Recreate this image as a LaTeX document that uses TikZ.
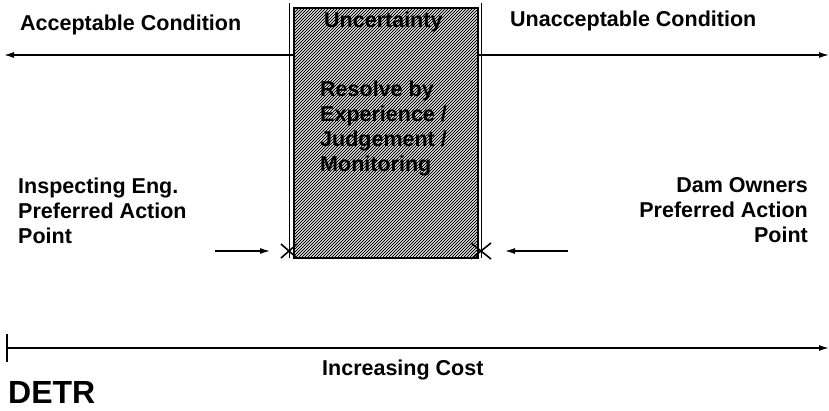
\documentclass[tikz,border=0pt]{standalone}
\usepackage{fontspec}
\setmainfont{Liberation Sans}
\usetikzlibrary{arrows.meta}
\begin{document}
\begin{tikzpicture}[x=1pt,y=-1pt,
  lbl/.style={font=\fontsize{21.5}{25}\selectfont\bfseries, inner sep=0pt},
  axisline/.style={line width=1.4pt},
  tipend/.style={-{Latex[length=10pt,width=6pt]}},
  hatchline/.style={line width=0.9pt},
  crossmark/.style={line width=1.6pt},
  sideline/.style={line width=1pt}]
\useasboundingbox (0,0) rectangle (829,410);

% condition scale
\coordinate (tl) at (4,55);
\coordinate (tr) at (829,55);
\draw[axisline,{Latex[length=10pt,width=6pt]}-{Latex[length=10pt,width=6pt]}] (tl) -- (tr);

% uncertainty band: hatched fill
\begin{scope}
  \clip (293,7) rectangle (477,257);
  \fill[white] (293,7) rectangle (477,257);
  \foreach \i in {-252,-249,...,186}
    \draw[hatchline] (293+\i,257) -- (543+\i,7);
\end{scope}
\node[draw, line width=1.6pt, minimum width=184pt, minimum height=250pt,
      inner sep=0pt, anchor=north west] (box) at (293,7) {};

% side lines of the band
\coordinate (sl1) at (289,3);
\coordinate (sl2) at (289,258);
\coordinate (sr1) at (481,3);
\coordinate (sr2) at (481,258);
\draw[sideline] (sl1) -- (sl2);
\draw[sideline] (sr1) -- (sr2);

% action points
\coordinate (xl) at (289,251);
\coordinate (xr) at (481,251);
\draw[crossmark] ([shift={(-8,-7)}]xl) -- ([shift={(8,7)}]xl);
\draw[crossmark] ([shift={(-8,7)}]xl) -- ([shift={(8,-7)}]xl);
\draw[crossmark] ([shift={(-10,-8)}]xr) -- ([shift={(10,8)}]xr);
\draw[crossmark] ([shift={(-10,8)}]xr) -- ([shift={(10,-8)}]xr);

\coordinate (la) at (215,251);
\coordinate (lb) at (270,251);
\coordinate (ra) at (568,251);
\coordinate (rb) at (505,251);
\draw[line width=1.3pt,tipend] (la) -- (lb);
\draw[line width=1.3pt,tipend] (ra) -- (rb);

% cost axis
\coordinate (c0) at (7,348);
\coordinate (c1) at (829,348);
\coordinate (t0) at (7,334);
\coordinate (t1) at (7,362);
\draw[axisline,tipend] (c0) -- (c1);
\draw[axisline] (t0) -- (t1);

% labels
\node[lbl, anchor=base west] (acc) at (20,30) {Acceptable Condition};
\node[lbl, anchor=base west] (unacc) at (510,26) {Unacceptable Condition};
\node[lbl, anchor=base west] (unc) at (324,27) {Uncertainty};
\node[lbl, align=left, anchor=north west] (res) at (320,81)
  {Resolve by\\Experience /\\Judgement /\\Monitoring};
\node[lbl, align=left, anchor=north west] (insp) at (18,178)
  {Inspecting Eng.\\Preferred Action\\Point};
\node[lbl, align=right, anchor=north east] (own) at (808,177)
  {Dam Owners\\Preferred Action\\Point};
\node[lbl, anchor=base west] (cost) at (322,375) {Increasing Cost};
\node[font=\fontsize{32}{36}\selectfont\bfseries, inner sep=0pt, anchor=base west] (detr) at (8,403) {DETR};
\end{tikzpicture}
\end{document}
